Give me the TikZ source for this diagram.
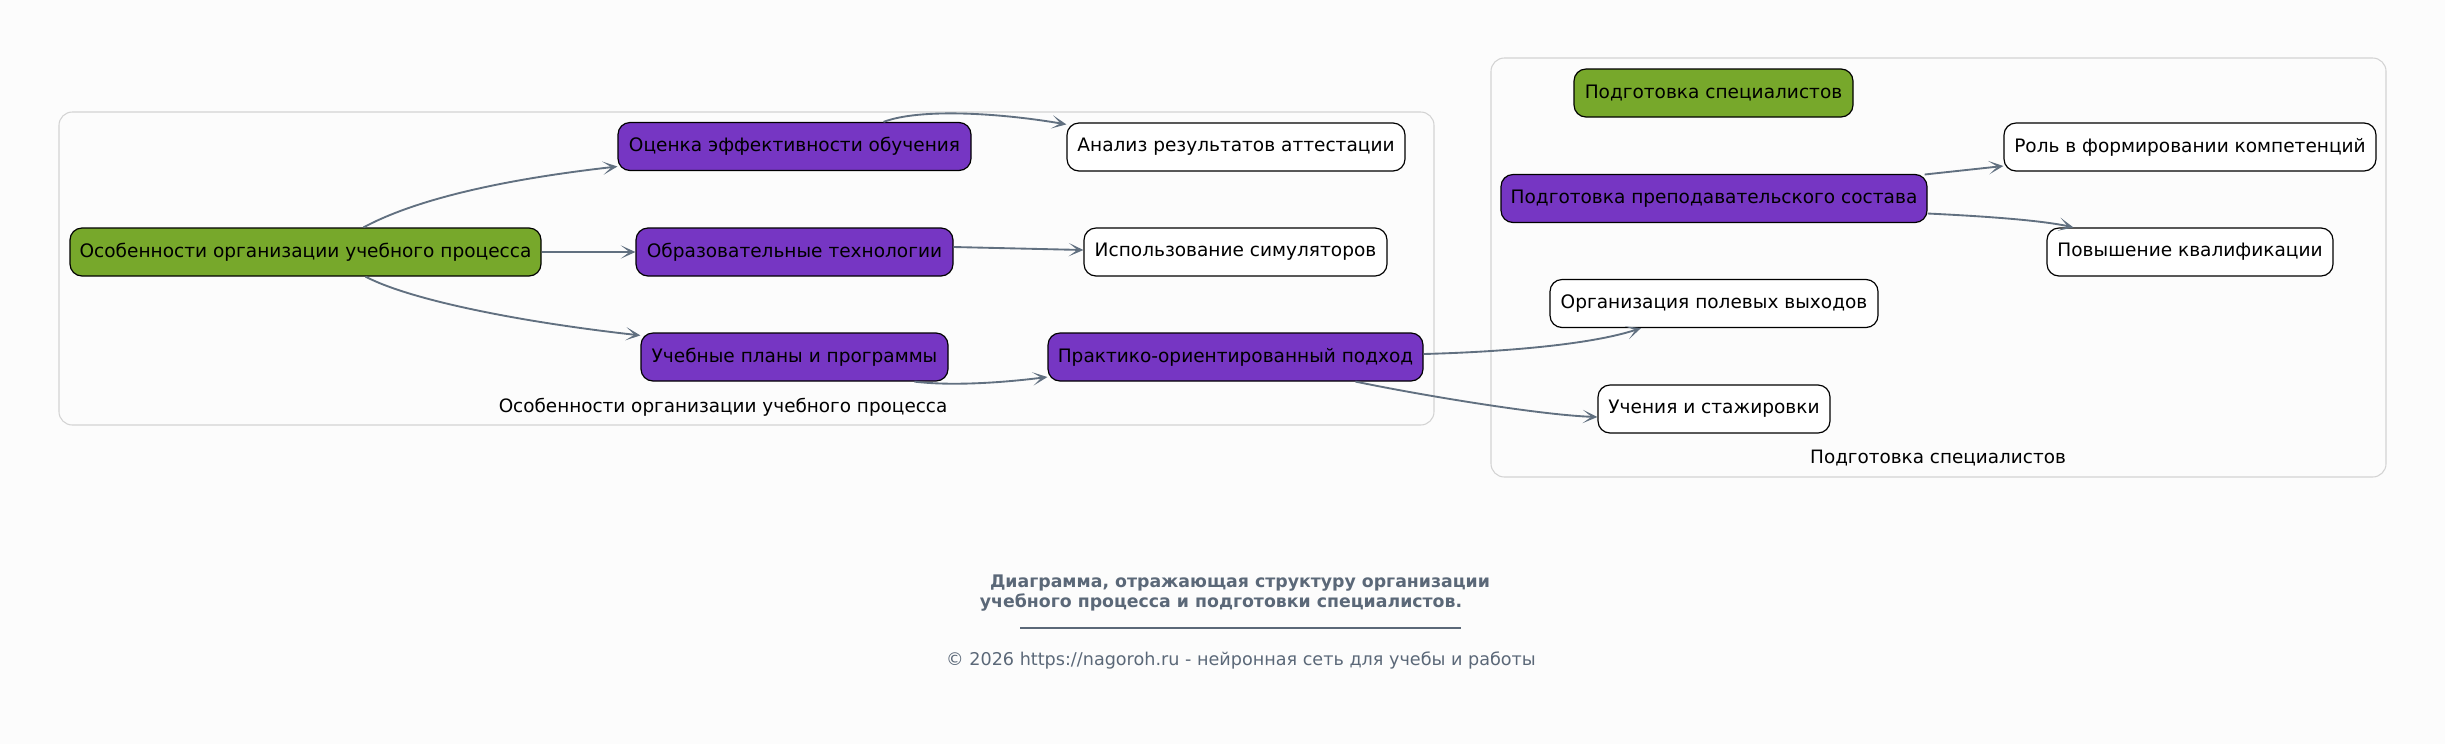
\documentclass[tikz,border=0pt]{standalone}
\usepackage{fontspec}
\setmainfont{DejaVu Sans}
\usetikzlibrary{calc,arrows.meta}
\definecolor{bgc}{HTML}{FCFCFC}
\definecolor{grn}{HTML}{77A82B}
\definecolor{prp}{HTML}{7636C3}
\definecolor{edg}{HTML}{617080}
\definecolor{clb}{HTML}{D3D3D3}
\definecolor{capcol}{HTML}{5B6878}
\tikzset{
  nd/.style={draw=black, line width=0.9pt, rounded corners=9pt, minimum height=36pt, inner sep=0pt,
    font=\fontsize{13.9}{16}\selectfont, text=black},
  gnode/.style={nd, fill=grn},
  pnode/.style={nd, fill=prp},
  wnode/.style={nd, fill=white},
  cl/.style={draw=clb, line width=0.8pt, rounded corners=10pt},
  cllab/.style={font=\fontsize{13.8}{16}\selectfont, text=black},
  ar/.style={draw=edg, line width=1.4pt, -{Stealth[length=11pt,width=10pt,inset=6.5pt]}}
}
\begin{document}
\begin{tikzpicture}[x=0.75pt,y=-0.75pt]
\fill[bgc] (0,0) rectangle (2445,744);
\useasboundingbox (0,0) rectangle (2445,744);
% clusters
\draw[cl] (59,112) rectangle (1434,425);
\draw[cl] (1491,58) rectangle (2386,477);
\node[cllab] (c1lab) at (723,407) {Особенности организации учебного процесса};
\node[cllab] (c2lab) at (1938,458) {Подготовка специалистов};
% nodes
\node[gnode, minimum width=353.25pt] (A) at (305.5,252) {Особенности организации учебного процесса};
\node[pnode, minimum width=264.75pt] (B) at (794.5,146.5) {Оценка эффективности обучения};
\node[pnode, minimum width=237.75pt] (C) at (794.5,252) {Образовательные технологии};
\node[pnode, minimum width=230.25pt] (D) at (794.5,357) {Учебные планы и программы};
\node[wnode, minimum width=253.5pt] (E) at (1236,147) {Анализ результатов аттестации};
\node[wnode, minimum width=227.25pt] (F) at (1235.5,252) {Использование симуляторов};
\node[pnode, minimum width=281.25pt] (G) at (1235.5,357) {Практико-ориентированный подход};
\node[gnode, minimum width=209.25pt] (H) at (1713.5,93) {Подготовка специалистов};
\node[pnode, minimum width=319.5pt] (I) at (1714,198.5) {Подготовка преподавательского состава};
\node[wnode, minimum width=279pt] (J) at (2190,147) {Роль в формировании компетенций};
\node[wnode, minimum width=214.5pt] (K) at (2190,252) {Повышение квалификации};
\node[wnode, minimum width=246pt] (L) at (1714,303.5) {Организация полевых выходов};
\node[wnode, minimum width=174pt] (M) at (1714,409) {Учения и стажировки};
% edges
\draw[ar] ($(A.north)+(58,0)$) .. controls (405,205) and (480,182) .. ($(B.west)+(0,20)$);
\draw[ar] (A.east) -- (C.west);
\draw[ar] ($(A.south)+(60,0)$) .. controls (410,300) and (520,322) .. ($(D.north west)+(0,3)$);
\draw[ar] ($(B.north)+(89,0)$) .. controls (920,108) and (1000,113) .. ($(E.north west)+(0,2)$);
\draw[ar] ($(C.east)+(0,-5)$) -- ($(F.west)+(0,-2)$);
\draw[ar] ($(D.south)+(120,0)$) .. controls (950,386) and (1000,383) .. ($(G.west)+(0,20)$);
\draw[ar] ($(G.east)+(0,-3)$) .. controls (1500,352) and (1590,345) .. ($(L.south)+(-73,0)$);
\draw[ar] ($(G.south)+(120,0)$) .. controls (1420,395) and (1540,415) .. ($(M.west)+(0,8)$);
\draw[ar] ($(I.east)+(-3,-24)$) -- ($(J.west)+(0,19)$);
\draw[ar] ($(I.east)+(0,15)$) .. controls (1980,216) and (2040,220) .. ($(K.north west)+(27,0)$);
% caption
\node[font=\bfseries\fontsize{13}{15}\selectfont, text=capcol] (cap1) at (1240,583) {Диаграмма, отражающая структуру организации};
\node[font=\bfseries\fontsize{13}{15}\selectfont, text=capcol] (cap2) at (1221,602) {учебного процесса и подготовки специалистов.};
\coordinate (r1) at (1020,628);
\coordinate (r2) at (1461,628);
\draw[draw=capcol, line width=0.8pt] (r1) -- (r2);
\node[font=\fontsize{13.2}{15}\selectfont, text=capcol] (copy) at (1241,660) {© 2026 https://nagoroh.ru - нейронная сеть для учебы и работы};
\end{tikzpicture}
\end{document}
